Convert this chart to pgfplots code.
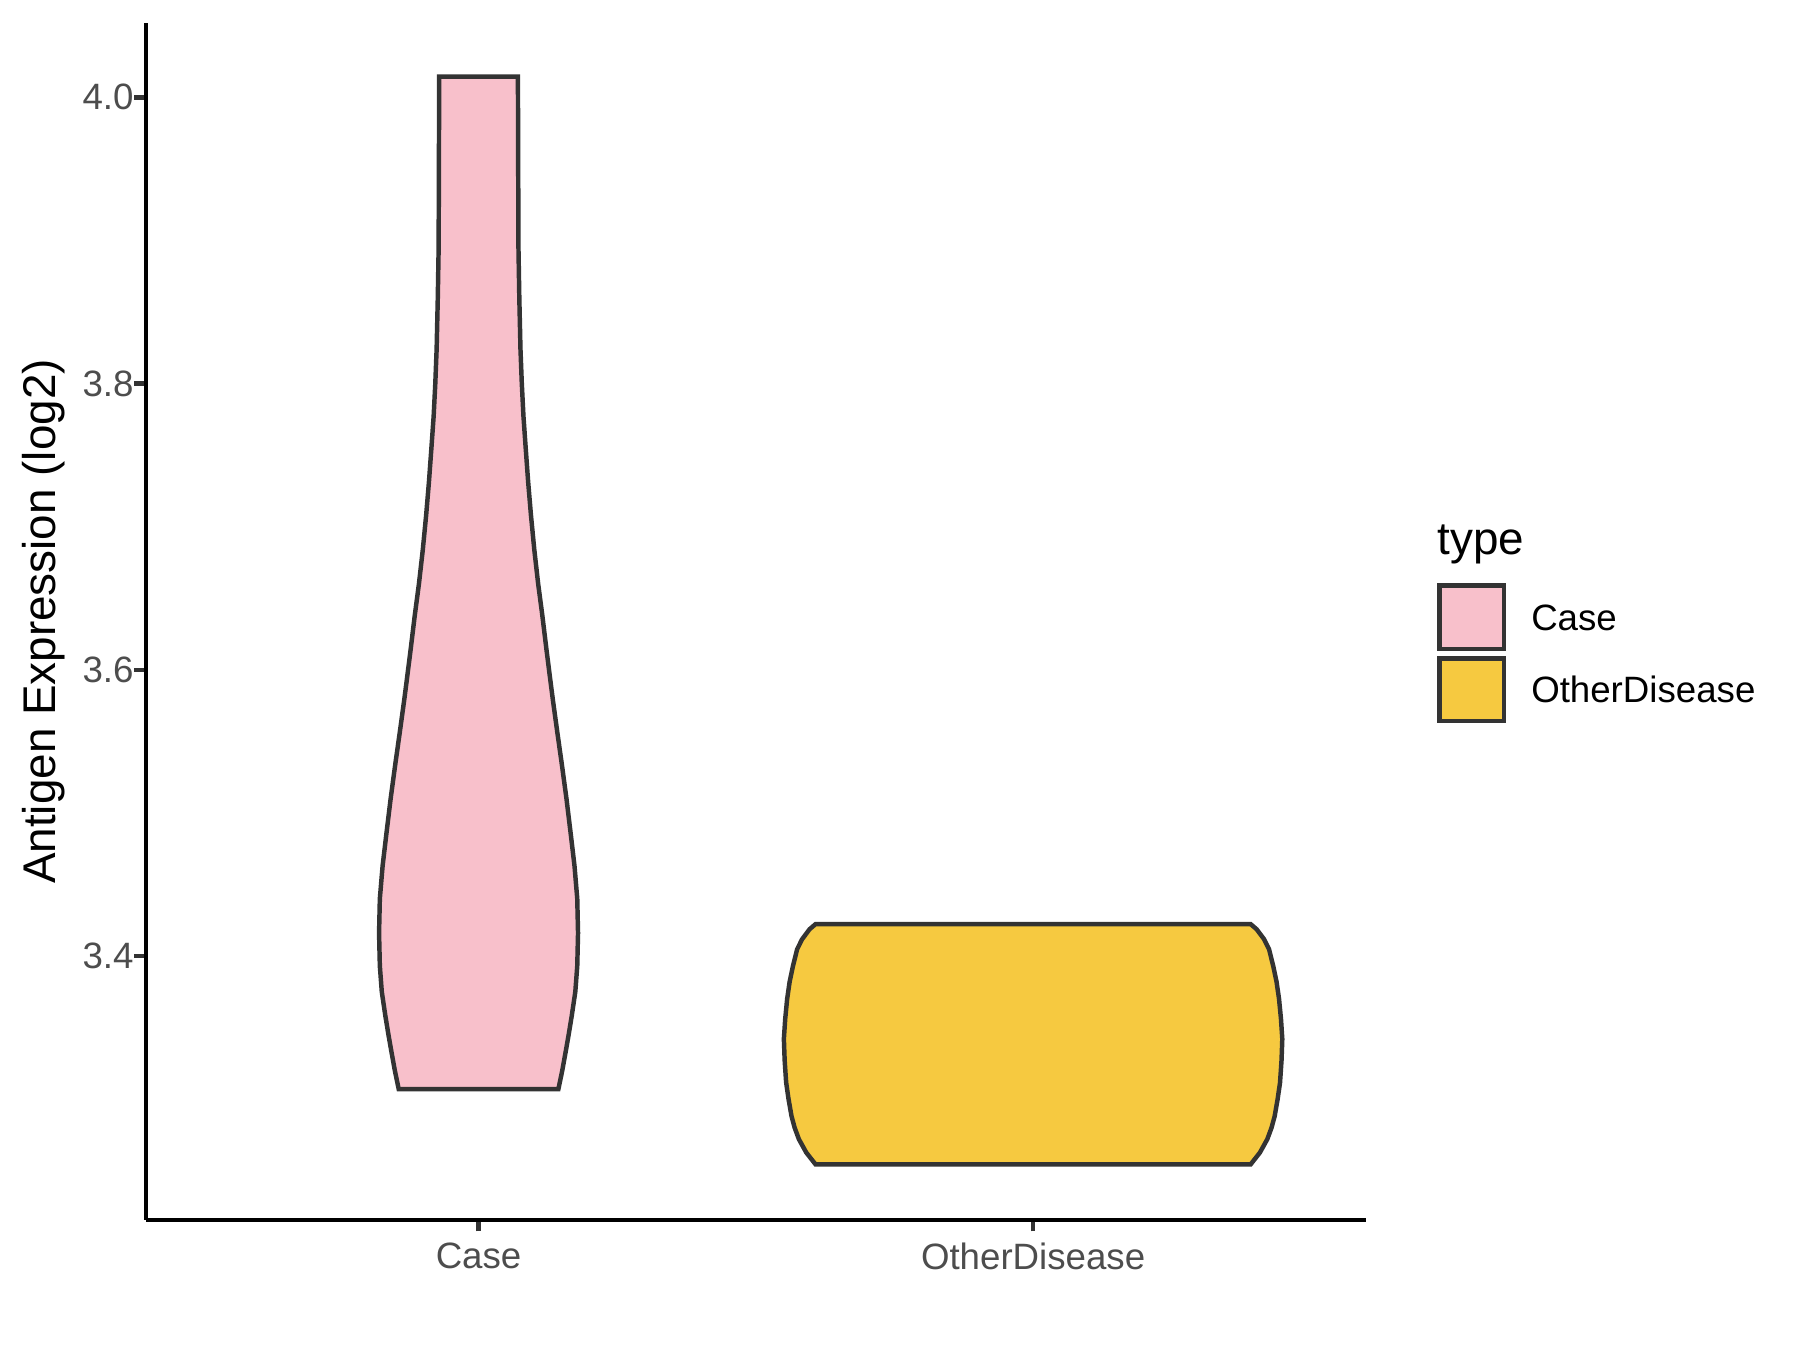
\documentclass[border=0pt]{standalone}
\usepackage{pgfplots}
\pgfplotsset{compat=1.18}
\usepackage{fontspec}
\setmainfont{Liberation Sans}

\definecolor{casepink}{HTML}{F8C0CB}
\definecolor{otheryellow}{HTML}{F6C940}
\definecolor{edge}{HTML}{333333}
\definecolor{ticktext}{HTML}{4D4D4D}

\begin{document}
\begin{tikzpicture}
\path[use as bounding box] (-35pt,-31.2pt) rectangle (397pt,292.8pt);
\begin{axis}[
    at={(0,0)}, anchor=south west,
    scale only axis, width=292.8pt, height=287.3pt,
    xmin=0.4, xmax=2.6, ymin=3.2155, ymax=4.052,
    axis x line*=bottom, axis y line*=left,
    axis line style={black, line width=1.07pt},
    xtick={1,2}, xticklabels={Case,OtherDisease},
    ytick={3.4,3.6,3.8,4.0},
    minor tick num=0,
    tick align=outside, major tick length=2.75pt,
    tick style={edge, line width=1.07pt},
    /pgf/number format/assume math mode=true,
    /pgf/number format/.cd, fixed, fixed zerofill, precision=1, /pgfplots/.cd,
    ticklabel style={font=\fontsize{8.8}{10}\selectfont, text=ticktext, inner sep=0pt},
    xticklabel style={anchor=north, yshift=-2.5pt},
    yticklabel style={anchor=east},
    every axis y label/.style={at={(rel axis cs:-0.084,0.5)}, anchor=center, rotate=90,
        font=\fontsize{11}{13}\selectfont},
    ylabel={Antigen Expression (log2)},
    clip=false,
]

% Case violin (left edge top to bottom, right edge bottom to top)
\addplot[fill=casepink, draw=edge, line width=1.07pt] coordinates {
    (0.929,4.0144) (0.9285,3.95) (0.928,3.894) (0.9265,3.86) (0.9244,3.824)
    (0.922,3.80) (0.919,3.777) (0.915,3.755) (0.9105,3.731) (0.9055,3.708)
    (0.8995,3.684) (0.8925,3.66) (0.885,3.638) (0.8775,3.614) (0.870,3.591)
    (0.866,3.579) (0.8575,3.555) (0.8495,3.533) (0.8415,3.51) (0.834,3.486)
    (0.827,3.463) (0.822,3.440) (0.8206,3.416) (0.822,3.393) (0.8255,3.375)
    (0.832,3.358) (0.8375,3.345) (0.842,3.335) (0.849,3.32) (0.856,3.307)
    (1.144,3.307) (1.151,3.32) (1.158,3.335) (1.1625,3.345) (1.168,3.358)
    (1.1745,3.375) (1.178,3.393) (1.1794,3.416) (1.178,3.440) (1.173,3.463)
    (1.166,3.486) (1.1585,3.51) (1.1505,3.533) (1.1425,3.555) (1.134,3.579)
    (1.130,3.591) (1.1225,3.614) (1.115,3.638) (1.1075,3.66) (1.1005,3.684)
    (1.0945,3.708) (1.0895,3.731) (1.085,3.755) (1.081,3.777) (1.078,3.80)
    (1.0756,3.824) (1.0735,3.86) (1.072,3.894) (1.0715,3.95) (1.071,4.0144)
} -- cycle;

% OtherDisease violin
\addplot[fill=otheryellow, draw=edge, line width=1.07pt] coordinates {
    (1.6076,3.4222) (1.597,3.4187) (1.5835,3.4117) (1.5745,3.4047) (1.567,3.393)
    (1.561,3.382) (1.5565,3.370) (1.553,3.356) (1.5506,3.342) (1.552,3.327)
    (1.5547,3.3115) (1.559,3.30) (1.5644,3.288) (1.570,3.28) (1.5776,3.272)
    (1.591,3.2626) (1.6076,3.2544)
    (2.3924,3.2544) (2.409,3.2626) (2.4224,3.272) (2.430,3.28) (2.4356,3.288)
    (2.441,3.30) (2.4453,3.3115) (2.448,3.327) (2.4494,3.342) (2.447,3.356)
    (2.4435,3.370) (2.439,3.382) (2.433,3.393) (2.4255,3.4047) (2.4165,3.4117)
    (2.403,3.4187) (2.3924,3.4222)
} -- cycle;

\end{axis}

% legend
\node[anchor=base west, inner sep=0pt, font=\fontsize{11}{13}\selectfont] at (309.8pt,159.6pt) {type};
\draw[fill=casepink, draw=edge, line width=1.07pt] (310.5pt,137.0pt) rectangle (325.9pt,152.3pt);
\draw[fill=otheryellow, draw=edge, line width=1.07pt] (310.5pt,119.7pt) rectangle (325.9pt,134.8pt);
\node[anchor=west, inner sep=0pt, font=\fontsize{8.8}{10}\selectfont] at (332.3pt,144.6pt) {Case};
\node[anchor=west, inner sep=0pt, font=\fontsize{8.8}{10}\selectfont] at (332.3pt,127.3pt) {OtherDisease};
\end{tikzpicture}
\end{document}
